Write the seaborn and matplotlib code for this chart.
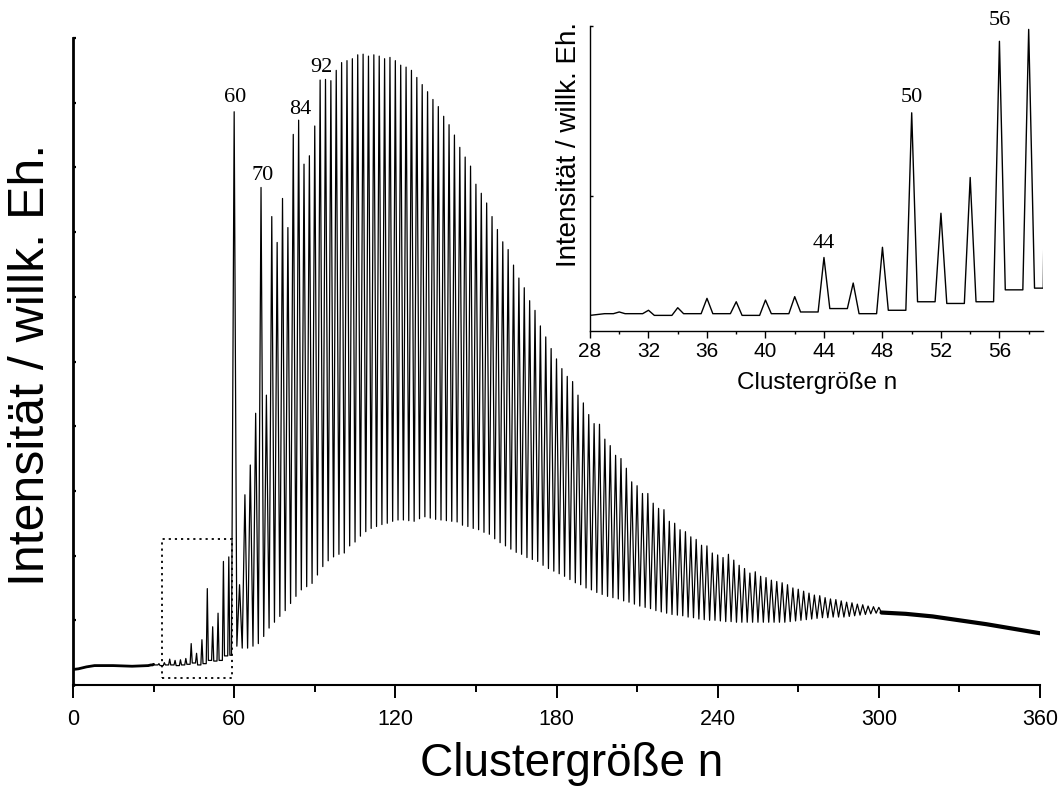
import numpy as np
import pandas as pd
import matplotlib
matplotlib.use("Agg")
import matplotlib.pyplot as plt
import seaborn as sns
from matplotlib.patches import Rectangle
from matplotlib.ticker import MultipleLocator

sns.set_style("ticks")
plt.rcParams["font.family"] = ["Liberation Sans", "DejaVu Sans"]
plt.rcParams.update({"text.color": "black", "axes.labelcolor": "black",
                     "xtick.color": "black", "ytick.color": "black",
                     "axes.edgecolor": "black"})

# ---------------- data ----------------
# smooth start of the spectrum (n < 29)
head_n = [0, 2, 5, 8, 15, 22, 28]
head_I = [0.24, 0.25, 0.28, 0.30, 0.30, 0.29, 0.30]

# even cluster sizes: peak maxima
peak_n = list(range(30, 302, 2))
peak_I = [
    0.32, 0.33, 0.345, 0.40, 0.38, 0.39, 0.41, 0.64, 0.49, 0.70, 1.49, 0.90, 1.11, 1.91, 1.98,
    8.86, 1.55, 2.94, 3.40, 4.20, 7.69, 4.48, 7.24, 6.84, 7.52, 7.07, 8.51, 8.73, 8.05, 8.18,
    8.64, 9.35, 9.36, 9.34, 9.50,
    9.62, 9.65, 9.68, 9.74, 9.75, 9.72, 9.74, 9.72, 9.68, 9.70, 9.65, 9.58, 9.55, 9.50, 9.39,
    9.28, 9.17, 9.05, 8.94, 8.79,
    8.66, 8.50, 8.31, 8.16, 8.02, 7.74, 7.60, 7.45, 7.24, 7.04, 6.85, 6.73, 6.49, 6.29, 6.14,
    5.94, 5.79, 5.55, 5.38, 5.20,
    5.04, 4.89, 4.77, 4.69, 4.48, 4.36, 4.18, 4.04, 4.03, 3.80, 3.70, 3.55, 3.50, 3.35, 3.14,
    3.08, 2.96, 2.96, 2.81, 2.73,
    2.71, 2.53, 2.50, 2.40, 2.37, 2.29, 2.25, 2.16, 2.15, 2.04, 2.01, 1.97, 2.02, 1.93, 1.85,
    1.80, 1.73, 1.75, 1.68, 1.66,
    1.62, 1.60, 1.58, 1.55, 1.50, 1.48, 1.45, 1.42, 1.39, 1.38, 1.35, 1.33, 1.32, 1.30, 1.28,
    1.27, 1.25, 1.24, 1.22, 1.21, 1.20,
]

# odd cluster sizes: levels between the peaks
valley_n = list(range(29, 303, 2))
valley_I = [
    0.31, 0.31, 0.30, 0.31, 0.31, 0.30, 0.31, 0.32, 0.34, 0.31, 0.33, 0.38, 0.37, 0.38, 0.45,
    0.46, 0.60, 0.57, 0.57, 0.60, 0.64, 0.75, 0.88, 0.97, 1.06, 1.15, 1.26, 1.37, 1.47, 1.52,
    1.57, 1.70, 1.83, 1.92, 1.98,
    2.02, 2.04, 2.15, 2.21, 2.30, 2.37, 2.42, 2.45, 2.48, 2.50, 2.53, 2.55, 2.55, 2.54, 2.53,
    2.57, 2.60, 2.58, 2.56, 2.55,
    2.54, 2.53, 2.52, 2.47, 2.45, 2.42, 2.40, 2.36, 2.33, 2.26, 2.20, 2.15, 2.10, 2.05, 2.02,
    1.97, 1.94, 1.91, 1.85, 1.80,
    1.76, 1.72, 1.68, 1.63, 1.58, 1.55, 1.50, 1.47, 1.43, 1.40, 1.37, 1.35, 1.33, 1.30, 1.28,
    1.25, 1.22, 1.20, 1.18, 1.15,
    1.13, 1.11, 1.09, 1.08, 1.07, 1.05, 1.04, 1.02, 1.01, 1.00, 1.00, 0.99, 0.98, 0.98, 0.97,
    0.97, 0.97, 0.97, 0.97, 0.97,
    0.97, 0.97, 0.97, 0.97, 0.98, 0.99, 1.00, 1.01, 1.02, 1.03, 1.04, 1.04, 1.05, 1.05, 1.05,
    1.06, 1.07, 1.08, 1.09, 1.10, 1.11, 1.12,
]

# noisy, unresolved tail (n > 301)
tail_n = [310, 320, 330, 340, 350, 360]
tail_I = [1.10, 1.06, 1.00, 0.94, 0.87, 0.80]

# labelled magic numbers
main_labels = [60, 70, 84, 92]
main_label_y = [9.08, 7.87, 8.89, 9.55]
inset_labels = [44, 50, 56]
inset_label_y = [0.72, 1.58, 2.035]

main_xticks = [0, 60, 120, 180, 240, 300, 360]
inset_xticks = [28, 32, 36, 40, 44, 48, 52, 56]

# ---------------- assemble the spectrum trace ----------------
FOOT = 0.4  # half width of the narrow small-cluster peaks
xs, ys = list(head_n), list(head_I)
for i, n in enumerate(peak_n):
    xs.append(valley_n[i]); ys.append(valley_I[i])
    if n < 60:
        xs += [n - FOOT, n, n + FOOT]
        ys += [valley_I[i], peak_I[i], valley_I[i + 1]]
    else:
        xs.append(n); ys.append(peak_I[i])
xs.append(valley_n[-1]); ys.append(valley_I[-1])
xs += tail_n; ys += tail_I
df = pd.DataFrame({"n": xs, "I": ys})
df_head = df[df["n"] <= 30]
df_tail = df[df["n"] >= 301]

# ---------------- figure ----------------
W, H = 1063, 787
fig = plt.figure(figsize=(W / 100, H / 100), dpi=100)
ax = fig.add_axes([73 / W, 1 - 685 / H, 967 / W, 647 / H])
sns.lineplot(data=df, x="n", y="I", sort=False, estimator=None,
             color="black", lw=0.9, ax=ax)
# unresolved noisy parts are drawn as a thicker trace
sns.lineplot(data=df_head, x="n", y="I", sort=False, estimator=None,
             color="black", lw=2.0, ax=ax)
sns.lineplot(data=df_tail, x="n", y="I", sort=False, estimator=None,
             color="black", lw=3.0, ax=ax)
ax.set_xlim(0, 360)
ax.set_ylim(0, 10)
for s in ["top", "right"]:
    ax.spines[s].set_visible(False)
ax.spines["left"].set_linewidth(2.0)
ax.spines["bottom"].set_linewidth(1.5)
ax.set_xticks(main_xticks)
ax.xaxis.set_minor_locator(MultipleLocator(30))
ax.set_yticks(range(0, 11))
ax.set_yticklabels([])
ax.tick_params(axis="x", which="major", direction="out", length=9, width=1.4,
               labelsize=15.5, pad=8)
ax.tick_params(axis="x", which="minor", direction="out", length=5, width=1.4)
ax.tick_params(axis="y", which="major", direction="in", length=2.5, width=1.6)
ax.set_xlabel("Clustergröße n", fontsize=33)
ax.set_ylabel("Intensität / willk. Eh.", fontsize=36)
ax.xaxis.set_label_coords(0.516, -0.088)
ax.yaxis.set_label_coords(-0.02, 0.495)

for n, y in zip(main_labels, main_label_y):
    ax.text(n + 0.5, y, str(n), family="Liberation Serif", fontsize=16,
            ha="center", va="center")

ax.add_patch(Rectangle((33, 0.11), 26.1, 2.14, fill=False, ec="black",
                       lw=1.3, ls=(0, (1.2, 2.2))))

# ---------------- inset ----------------
axi = fig.add_axes([590 / W, 1 - 330.7 / H, 453.3 / W, 304.7 / H])
axi.patch.set_alpha(0)
sns.lineplot(data=df, x="n", y="I", sort=False, estimator=None,
             color="black", lw=1.0, ax=axi)
axi.set_xlim(28, 59)
axi.set_ylim(0.21, 2.0)
for s in ["top", "right"]:
    axi.spines[s].set_visible(False)
axi.spines["left"].set_linewidth(1.0)
axi.spines["bottom"].set_linewidth(1.0)
axi.set_xticks(inset_xticks)
axi.xaxis.set_minor_locator(MultipleLocator(2))
axi.set_yticks([1, 2])
axi.set_yticklabels([])
axi.tick_params(axis="x", which="major", direction="out", length=5, width=1.0,
                labelsize=15, pad=3)
axi.tick_params(axis="x", which="minor", direction="out", length=2.5, width=1.0)
axi.tick_params(axis="y", direction="in", length=2, width=1.0)
axi.set_xlabel("Clustergröße n", fontsize=17.5, labelpad=8)
axi.set_ylabel("Intensität / willk. Eh.", fontsize=20)
axi.yaxis.set_label_coords(-0.017, 0.61)

for n, y in zip(inset_labels, inset_label_y):
    axi.text(n, y, str(n), family="Liberation Serif", fontsize=16,
             ha="center", va="center", clip_on=False)

fig.savefig("out.png", dpi=100)
